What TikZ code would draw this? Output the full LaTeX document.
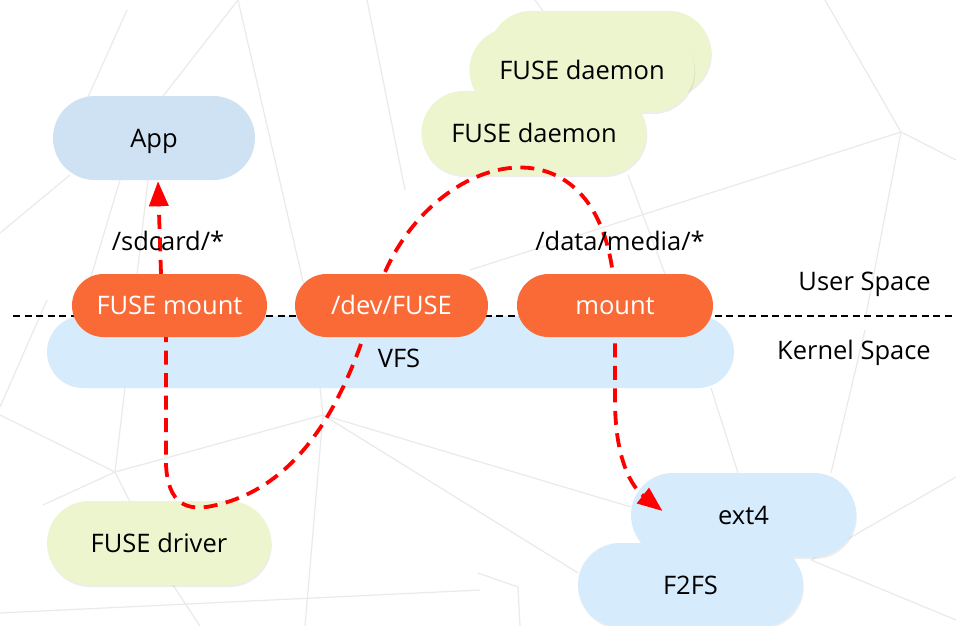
\documentclass[tikz,border=0pt]{standalone}
\usepackage{fontspec}
\setmainfont{Open Sans}
\usetikzlibrary{arrows.meta,shadows}
\definecolor{appblue}{HTML}{CFE2F3}
\definecolor{kblue}{HTML}{D6EBFB}
\definecolor{paleg}{HTML}{EDF5CF}
\definecolor{fuseorange}{HTML}{F96A37}
\definecolor{netgray}{HTML}{EAEAEA}
\newcommand\lblfont{\fontsize{25.5}{30}\selectfont}
\pgfdeclarelayer{bg}
\pgfdeclarelayer{flowlayer}
\pgfdeclarelayer{fg}
\pgfsetlayers{bg,main,flowlayer,fg}
\tikzset{
  netline/.style={netgray, line width=1.2pt},
  soft/.style={drop shadow={shadow xshift=0.8pt, shadow yshift=-2pt,
      fill=black, opacity=0.07}},
  captext/.style={text height=18.2pt, text depth=0pt, font=\lblfont},
  bigpill/.style={rectangle, rounded corners=42pt, minimum height=84pt,
      inner sep=0pt, text=black, captext},
  orangepill/.style={rectangle, rounded corners=31.5pt, minimum height=63pt,
      minimum width=195pt, inner sep=0pt, fill=fuseorange, text=white, captext},
  plain/.style={inner sep=0pt, text=black, captext},
  flow/.style={red, line width=3.8pt, dash pattern=on 14pt off 8.5pt,
      -{Triangle[length=25pt,width=19pt]}},
  spaceline/.style={black, line width=1.3pt, dash pattern=on 7pt off 4.5pt}
}
\begin{document}
\begin{tikzpicture}[x=1pt,y=-1pt]
\useasboundingbox (0,0) rectangle (956,626);

% white page and the faint network behind everything
\begin{pgfonlayer}{bg}
\fill[white] (0,0) rectangle (956,626);
\foreach \p/\q in {
  {(238,0)}/{(160,100)}, {(238,0)}/{(305,290)}, {(127,10)}/{(88,97)},
  {(70,175)}/{(0,233)}, {(120,180)}/{(78,320)}, {(148,180)}/{(137,275)},
  {(367,0)}/{(405,190)}, {(535,0)}/{(545,14)},
  {(0,415)}/{(115,472)}, {(115,472)}/{(323,415)}, {(115,472)}/{(125,388)},
  {(115,472)}/{(43,505)}, {(115,472)}/{(130,502)}, {(47,300)}/{(0,407)},
  {(173,585)}/{(200,626)}, {(0,613)}/{(480,590)},
  {(323,415)}/{(631,507)}, {(323,415)}/{(578,573)}, {(323,415)}/{(320,388)},
  {(323,415)}/{(305,626)},
  {(825,0)}/{(901,132)}, {(901,132)}/{(956,160)}, {(901,132)}/{(865,320)},
  {(901,132)}/{(470,270)}, {(865,330)}/{(831,473)},
  {(628,175)}/{(665,274)}, {(711,388)}/{(738,473)},
  {(811,560)}/{(956,477)}, {(811,560)}/{(956,620)},
  {(478,573)}/{(518,587)}, {(518,587)}/{(520,626)}}
  \draw[netline] \p -- \q;
\end{pgfonlayer}

% user-space daemons and the app
\node[bigpill, fill=paleg, soft, minimum width=222pt] (daemonc) at (600,53) {};
\node[bigpill, fill=paleg, soft, minimum width=225pt] (daemonb) at (582,70) {FUSE daemon};
\node[bigpill, fill=paleg, soft, minimum width=225pt] (daemona) at (534,133) {FUSE daemon};
\node[bigpill, fill=appblue, minimum width=202pt] (app) at (154,138) {App};

% kernel side
\node[rectangle, rounded corners=36pt, minimum height=72pt, minimum width=687pt,
      inner sep=0pt, fill=kblue] (vfs) at (390.5,352) {};
\node[plain] (vfslabel) at (399,358.5) {VFS};
\node[bigpill, fill=paleg, soft, minimum width=224pt] (driver) at (159,543) {FUSE driver};
\node[bigpill, fill=kblue, soft, minimum width=225pt] (ext4) at (743.5,515) {ext4};
\node[bigpill, fill=kblue, soft, minimum width=225pt] (f2fs) at (690.5,585) {F2FS};

% user / kernel boundary
\coordinate (sepL) at (13,316);
\coordinate (sepR) at (956,316);
\draw[spaceline] (sepL) -- (sepR);

% mount points straddling the boundary
\begin{pgfonlayer}{fg}
\node[orangepill] (fmount) at (169.5,305.5) {FUSE mount};
\node[orangepill, minimum width=193pt] (devfuse) at (391.5,305.5) {/dev/FUSE};
\node[orangepill, minimum width=196pt] (mount) at (615,305.5) {mount};
\end{pgfonlayer}

% request path
\begin{pgfonlayer}{flowlayer}
\draw[flow] ([xshift=-8.5pt]fmount.north) -- ([xshift=4pt,yshift=-1pt]app.south);
\draw[flow] ([xshift=-3.5pt]fmount.center) -- (166,465)
  .. controls (168,505) and (188,511) .. (212,506)
  .. controls (290,490) and (340,420) .. ([xshift=-18pt]devfuse.center)
  .. controls (413,150) and (612,95) .. (mount.center)
  -- (615,400)
  .. controls (615,460) and (632,487) .. ([xshift=-81pt,yshift=4pt]ext4.center);
\end{pgfonlayer}

% path labels and space names
\begin{pgfonlayer}{fg}
\node[plain] (sdcard) at (168,241.5) {/sdcard/*};
\node[plain] (media) at (620,241.5) {/data/media/*};
\node[plain, anchor=east] (userspace) at (931,281) {User Space};
\node[plain, anchor=east] (kernelspace) at (931,350) {Kernel Space};
\end{pgfonlayer}
\end{tikzpicture}
\end{document}
